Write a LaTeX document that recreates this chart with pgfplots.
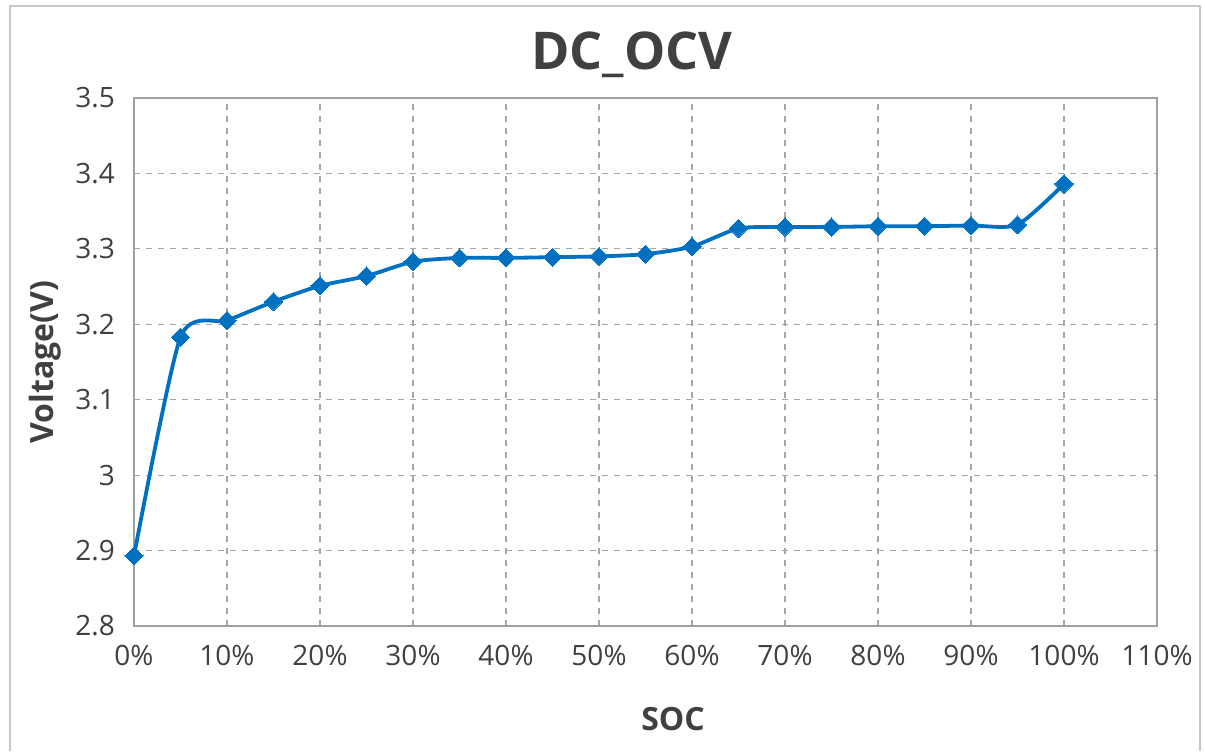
\documentclass[border=0pt]{standalone}
\usepackage{pgfplots}
\pgfplotsset{compat=1.18}
\usepackage{fontspec}
\setmainfont{Open Sans}
\definecolor{lineblue}{HTML}{0070C0}
\definecolor{txt}{HTML}{404040}
\definecolor{gridc}{HTML}{A6A6A6}
\definecolor{axc}{HTML}{A0A0A0}
\begin{document}
\begin{tikzpicture}
\path[use as bounding box] (0pt,0pt) rectangle (602.5pt,375.5pt);
\draw[color=black!22, line width=0.8pt] (5pt,0pt) -- (5pt,372.5pt) -- (600pt,372.5pt) -- (600pt,0pt);
\begin{axis}[
  at={(67pt,62.5pt)}, anchor=south west,
  scale only axis, width=511.5pt, height=264pt,
  xmin=0, xmax=110, ymin=2.8, ymax=3.5,
  xtick={0,10,...,110},
  xticklabels={0\%,10\%,20\%,30\%,40\%,50\%,60\%,70\%,80\%,90\%,100\%,110\%},
  ytick={2.8,2.9,3.0,3.1,3.2,3.3,3.4,3.5},
  yticklabels={2.8,2.9,3,3.1,3.2,3.3,3.4,3.5},
  tick style={draw=none},
  axis line style={draw=axc, line width=0.8pt},
  grid=major,
  major grid style={dashed, draw=gridc, line width=0.6pt},
  ticklabel style={font=\fontsize{14}{16}\selectfont, text=txt},
  yticklabel style={xshift=-6pt},
  xticklabel style={yshift=-6pt},
  /pgf/number format/assume math mode=true,
  clip=false,
]
\addplot[lineblue, line width=1.9pt, smooth, tension=0.4, mark=square*, mark size=3.2pt, mark options={fill=lineblue, draw=lineblue, line width=0pt, rotate=45}]
coordinates {
(0,2.893) (5,3.183) (10,3.205) (15,3.230) (20,3.251) (25,3.264) (30,3.283)
(35,3.288) (40,3.288) (45,3.289) (50,3.290) (55,3.293) (60,3.303)
(65,3.327) (70,3.329) (75,3.329) (80,3.330) (85,3.330) (90,3.331)
(95,3.332) (100,3.386)
};
\end{axis}
\node[text=txt, font=\bfseries\fontsize{26}{30}\selectfont] at (316pt,348pt) {DC\_OCV};
\node[text=txt, font=\bfseries\fontsize{16}{19}\selectfont] at (336.5pt,16pt) {SOC};
\node[text=txt, font=\bfseries\fontsize{16}{19}\selectfont, rotate=90] at (22.5pt,194.5pt) {Voltage(V)};
\end{tikzpicture}
\end{document}
